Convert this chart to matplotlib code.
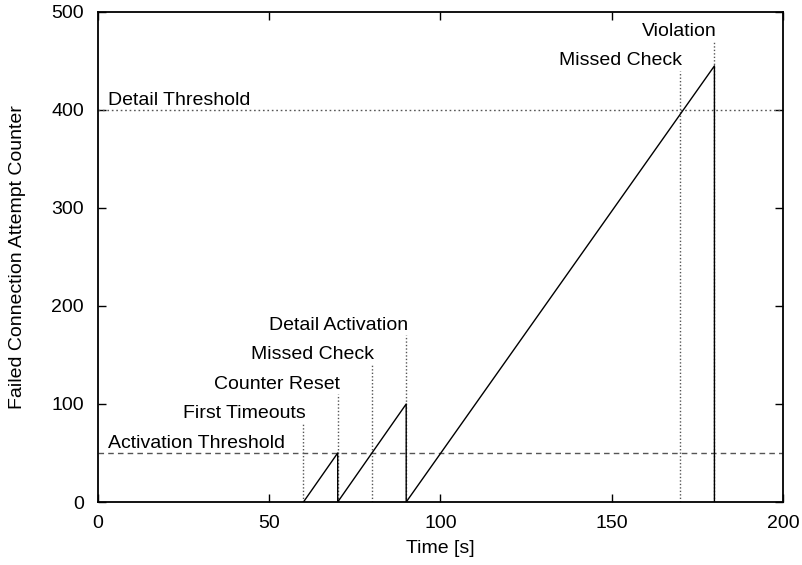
import matplotlib
matplotlib.use('Agg')
import matplotlib.pyplot as plt

plt.rcParams['font.family'] = ['Liberation Sans', 'DejaVu Sans']
plt.rcParams['font.size'] = 14

# sawtooth of the counter over time
time_s = [60, 70, 70, 90, 90, 180, 180]
counter = [0, 50, 0, 100, 0, 445, 0]

# event markers: time, height of the dotted line, label
event_times = [60, 70, 80, 90, 170, 180]
event_heights = [80, 110, 140, 170, 440, 470]
event_labels = ['First Timeouts', 'Counter Reset', 'Missed Check',
                'Detail Activation', 'Missed Check', 'Violation']

activation_threshold = 50
detail_threshold = 400

fig = plt.figure(figsize=(8.03, 5.65), dpi=100)
ax = fig.add_axes([0.122, 0.1115, 0.853, 0.8673])

# thresholds
ax.axhline(activation_threshold, color='#555555', lw=1.0, ls=(0, (4, 3)))
ax.axhline(detail_threshold, color='#555555', lw=1.0, ls=(0, (1.2, 2)))
ax.text(3, activation_threshold + 10, 'Activation Threshold', ha='left', va='center')
ax.text(3, detail_threshold + 10, 'Detail Threshold', ha='left', va='center')

# event lines and labels
for t, h, lab in zip(event_times, event_heights, event_labels):
    ax.plot([t, t], [0, h], color='#555555', lw=1.0, ls=(0, (1, 1.5)))
    ax.text(t + 0.6, h + 10, lab, ha='right', va='center')

ax.plot(time_s, counter, color='black', lw=1.0)

ax.set_xlim(0, 200)
ax.set_ylim(0, 500)
ax.set_xticks([0, 50, 100, 150, 200])
ax.set_yticks([0, 100, 200, 300, 400, 500])
ax.tick_params(direction='in', length=6, width=1, top=True, right=True)
ax.tick_params(axis='y', pad=10)
ax.tick_params(axis='x', pad=9)
for s in ax.spines.values():
    s.set_linewidth(1.3)

ax.set_xlabel('Time [s]', labelpad=6)
ax.set_ylabel('Failed Connection Attempt Counter', labelpad=18)

fig.savefig('out.png', dpi=100)
